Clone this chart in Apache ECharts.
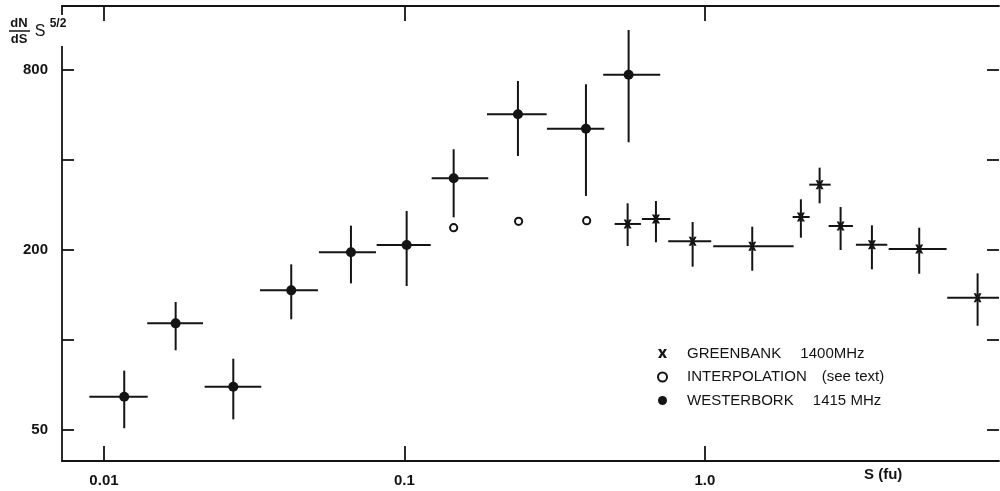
<!DOCTYPE html>
<html>
<head>
<meta charset="utf-8">
<script src="https://cdn.jsdelivr.net/npm/echarts@6.0.0/dist/echarts.min.js"></script>
<style>
  html, body { margin: 0; padding: 0; background: #fff; }
  #chart { width: 1000px; height: 491px; }
</style>
</head>
<body>
<div id="chart"></div>
<script>
// ---- Data (S in flux units, N = dN/dS S^5/2) ----
const westS   = [0.01168, 0.01732, 0.02694, 0.04200, 0.06637, 0.1017, 0.1458, 0.2386, 0.4018, 0.5572];
const westSlo = [0.00894, 0.01393, 0.02163, 0.03305, 0.05193, 0.08081, 0.1232, 0.1882, 0.2980, 0.4587];
const westShi = [0.01398, 0.02136, 0.03338, 0.05153, 0.08039, 0.1223, 0.1901, 0.2973, 0.4623, 0.7099];
const westN   = [64.6, 113.7, 69.8, 146.6, 196.5, 207.9, 347.5, 568.7, 508.9, 771.5];
const westNlo = [50.7, 92.4, 54.3, 117.3, 154.7, 151.6, 257.2, 412.4, 303.2, 458.4];
const westNhi = [79.0, 134.0, 86.6, 179.1, 241.2, 270.0, 434.4, 735.0, 716.6, 1088];

const greenS   = [0.553, 0.687, 0.910, 1.437, 2.086, 2.408, 2.828, 3.595, 5.166, 8.08];
const greenSlo = [0.5006, 0.6171, 0.7548, 1.0656, 1.958, 2.224, 2.580, 3.180, 4.087, 6.402];
const greenShi = [0.6124, 0.7668, 1.0495, 1.973, 2.231, 2.620, 3.108, 4.044, 6.372, 10.0];
const greenN   = [244.4, 253.9, 213.9, 205.8, 257.9, 330.8, 240.6, 208.3, 201.5, 138.5];
const greenNlo = [206.3, 212.2, 175.9, 170.5, 219.9, 286.5, 200.0, 172.4, 166.6, 111.6];
const greenNhi = [286.5, 291.7, 248.1, 239.3, 295.5, 377.0, 278.5, 241.9, 237.5, 167.1];

const interpS = [0.1458, 0.2398, 0.4040];
const interpN = [237.5, 249.5, 250.6];

const xTickValues = [0.01, 0.1, 1];
const xTickLabels = ['0.01', '0.1', '1.0'];
const yTickValues = [50, 100, 200, 400, 800];
const yLabelValues = [50, 200, 800];
const yLabelTexts = ['50', '200', '800'];

const seriesNames = ['GREENBANK\u2002\u2002 1400MHz', 'INTERPOLATION\u2002\u2002(see text)', 'WESTERBORK\u2002\u2002 1415 MHz'];

// ---- Helpers ----
const L = Math.log10;
const INK = '#141414';
const FONT = '"Liberation Sans", Arial, sans-serif';

function pick(v, vals, texts) {
  let best = 0, bd = Infinity;
  vals.forEach((t, i) => { const d = Math.abs(L(t) - v); if (d < bd) { bd = d; best = i; } });
  return bd < 1e-6 ? texts[best] : '';
}

function errRows(S, Slo, Shi, N, Nlo, Nhi) {
  return S.map((s, i) => [L(s), L(Slo[i]), L(Shi[i]), L(N[i]), L(Nlo[i]), L(Nhi[i])]);
}

const errData = errRows(westS, westSlo, westShi, westN, westNlo, westNhi)
  .concat(errRows(greenS, greenSlo, greenShi, greenN, greenNlo, greenNhi));

function renderErr(params, api) {
  const c = api.coord([api.value(0), api.value(3)]);
  const lo = api.coord([api.value(1), api.value(3)]);
  const hi = api.coord([api.value(2), api.value(3)]);
  const bot = api.coord([api.value(0), api.value(4)]);
  const top = api.coord([api.value(0), api.value(5)]);
  const st = { stroke: INK, lineWidth: 2 };
  return {
    type: 'group',
    children: [
      { type: 'line', shape: { x1: lo[0], y1: c[1], x2: hi[0], y2: c[1] }, style: st },
      { type: 'line', shape: { x1: c[0], y1: top[1], x2: c[0], y2: bot[1] }, style: st }
    ]
  };
}

function renderRing(params, api) {
  const c = api.coord([api.value(0), api.value(1)]);
  return {
    type: 'circle',
    shape: { cx: c[0], cy: c[1], r: 3.6 },
    style: { fill: '#fff', stroke: INK, lineWidth: 2 }
  };
}

const xMin = L(0.00725), xMax = L(9.52);
const yMin = L(39.4), yMax = L(1309);

const axisLineStyle = { color: INK, width: 1.8 };

function xAxisDef(pos, labels) {
  return {
    type: 'value', position: pos, min: xMin, max: xMax,
    axisLine: { show: true, onZero: false, lineStyle: axisLineStyle },
    axisTick: { show: true, inside: true, length: 15, lineStyle: { color: INK, width: 1.8 },
                customValues: xTickValues.map(L) },
    axisLabel: labels ? {
      show: true, customValues: xTickValues.map(L),
      formatter: v => pick(v, xTickValues, xTickLabels),
      fontFamily: FONT, fontSize: 15, fontWeight: 'bold', color: INK, margin: 12
    } : { show: false },
    splitLine: { show: false }
  };
}
function yAxisDef(pos, labels) {
  return {
    type: 'value', position: pos, min: yMin, max: yMax,
    axisLine: { show: labels, onZero: false, lineStyle: axisLineStyle },
    axisTick: { show: true, inside: true, length: 12, lineStyle: { color: INK, width: 1.8 },
                customValues: yTickValues.map(L) },
    axisLabel: labels ? {
      show: true, customValues: yLabelValues.map(L),
      formatter: v => pick(v, yLabelValues, yLabelTexts),
      fontFamily: FONT, fontSize: 15, fontWeight: 'bold', color: INK, margin: 14
    } : { show: false },
    splitLine: { show: false }
  };
}

const xPath = 'path://M0,0L3.2,0L5,3.2L6.8,0L10,0L6.8,5L10,10L6.8,10L5,6.8L3.2,10L0,10L3.2,5Z';

const chart = echarts.init(document.getElementById('chart'), null, { renderer: 'canvas' });
chart.setOption({
  backgroundColor: '#fff',
  animation: false,
  grid: { left: 62, right: 1, top: 6, bottom: 30, containLabel: false },
  xAxis: [xAxisDef('bottom', true), xAxisDef('top', false)],
  yAxis: [yAxisDef('left', true), yAxisDef('right', false)],
  legend: {
    orient: 'vertical', left: 652, top: 341,
    itemWidth: 9, itemHeight: 9, itemGap: 8.5,
    selectedMode: false,
    formatter: n => '{t|' + n + '}',
    textStyle: {
      color: INK, fontFamily: FONT, fontSize: 15,
      rich: { t: { padding: [0, 0, 0, 15], fontFamily: FONT, fontSize: 15, lineHeight: 15, color: INK } }
    },
    data: [
      { name: seriesNames[0], icon: xPath, itemStyle: { color: INK } },
      { name: seriesNames[1], icon: 'circle', itemStyle: { color: '#fff', borderColor: INK, borderWidth: 2 } },
      { name: seriesNames[2], icon: 'circle', itemStyle: { color: INK } }
    ]
  },
  graphic: [
    { type: 'rect', shape: { x: 55, y: 15, width: 12, height: 31 }, style: { fill: '#fff' }, z: 100 },
    { type: 'text', x: 19, y: 23, z: 101, style: { text: 'dN', fontFamily: FONT, fontSize: 13, fontWeight: 'bold', fill: INK, align: 'center', verticalAlign: 'middle' } },
    { type: 'line', z: 101, shape: { x1: 9, y1: 31, x2: 30, y2: 31 }, style: { stroke: INK, lineWidth: 1.5 } },
    { type: 'text', x: 19, y: 39, z: 101, style: { text: 'dS', fontFamily: FONT, fontSize: 13, fontWeight: 'bold', fill: INK, align: 'center', verticalAlign: 'middle' } },
    { type: 'text', x: 40, y: 32, z: 101, style: { text: 'S', fontFamily: FONT, fontSize: 16, fill: INK, align: 'center', verticalAlign: 'middle' } },
    { type: 'text', x: 58, y: 24, z: 101, style: { text: '5/2', fontFamily: FONT, fontSize: 12, fontWeight: 'bold', fill: INK, align: 'center', verticalAlign: 'middle' } },
    { type: 'text', x: 864, y: 475, z: 101, style: { text: 'S (fu)', fontFamily: FONT, fontSize: 15, fontWeight: 'bold', fill: INK, align: 'left', verticalAlign: 'middle' } }
  ],
  series: [
    {
      type: 'custom', name: 'errors', renderItem: renderErr, clip: true,
      data: errData, encode: { x: [0, 1, 2], y: [3, 4, 5] }, silent: true, z: 2
    },
    {
      type: 'scatter', name: seriesNames[0], symbol: xPath, symbolSize: [8, 9],
      itemStyle: { color: INK, opacity: 1 }, z: 3,
      data: greenS.map((s, i) => [L(s), L(greenN[i])])
    },
    {
      type: 'custom', name: seriesNames[1], renderItem: renderRing,
      itemStyle: { color: '#fff', borderColor: INK, borderWidth: 2 }, z: 3,
      data: interpS.map((s, i) => [L(s), L(interpN[i])]), encode: { x: 0, y: 1 }
    },
    {
      type: 'scatter', name: seriesNames[2], symbol: 'circle', symbolSize: 10,
      itemStyle: { color: INK, opacity: 1 }, z: 3,
      data: westS.map((s, i) => [L(s), L(westN[i])])
    }
  ]
});
</script>
</body>
</html>
